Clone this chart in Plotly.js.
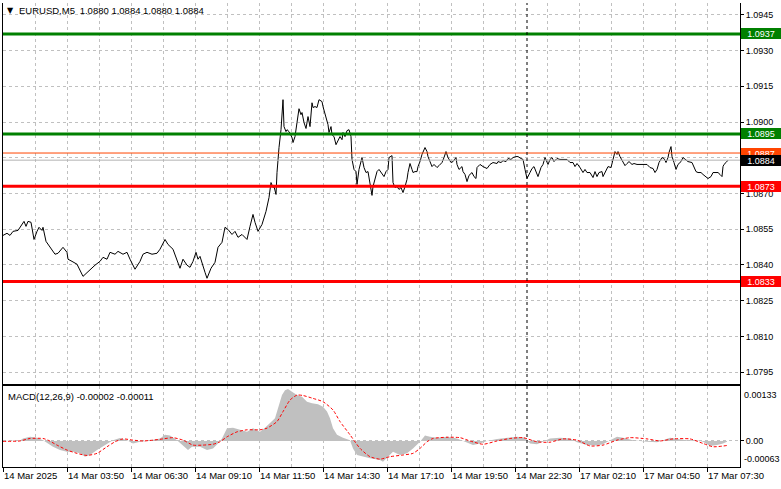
<!DOCTYPE html>
<html>
<head>
<meta charset="utf-8">
<script src="https://cdn.plot.ly/plotly-3.0.1.min.js"></script>
<style>
html,body{margin:0;padding:0;background:#fff;}
#chart{width:781px;height:489px;}
</style>
</head>
<body>
<div id="chart"></div>
<script>
// ---------- DATA ----------
const symbolTitle = "EURUSD,M5";
const ohlc = ["1.0880", "1.0884", "1.0880", "1.0884"];
const macdTitle = "MACD(12,26,9)";
const macdNow = ["-0.00002", "-0.00011"];

// x positions are bar numbers (M5 bars counted from the left edge)
const labelBars = [0, 32, 64, 96, 128, 160, 192, 224, 256, 288, 320, 352];
const labelTexts = ["14 Mar 2025", "14 Mar 03:50", "14 Mar 06:30", "14 Mar 09:10", "14 Mar 11:50",
  "14 Mar 14:30", "14 Mar 17:10", "14 Mar 19:50", "14 Mar 22:30", "17 Mar 02:10", "17 Mar 04:50", "17 Mar 07:30"];
const gridBars = [16, 32, 48, 64, 80, 96, 112, 128, 144, 160, 176, 192, 208, 224, 240, 256, 272, 288, 304, 320, 336, 352, 368];
const daySeparatorBar = 262;

const priceTicks = [1.0795, 1.0810, 1.0825, 1.0840, 1.0855, 1.0870, 1.0885, 1.0900, 1.0915, 1.0930, 1.0945];

// price line, part 1 (Friday morning)
const priceBarsA = [0,2,3.5,5,7.5, 9.5,10.5,11.5,12.5,14, 14.5,15.5,17,18,19.5, 20,21.5,23.5,26,27.5,
  30,32,32.5,34.5,37, 40,42,44.5,46,48.5, 50,52,53.5,56,57.5, 60,62,63.5,66,68.5,
  70,72,74.5,77,78.5, 81,82.5,85,87,88.5, 90,92,93.5,95,96.5, 97.5,98.5,100,101,102,
  104,106,107.5,109.5,111, 112.5,114.5,116,117.5,119.5, 122,123.5,125,126,127.5, 129.5,131.5];
const priceValuesA = [1.08524,1.08533,1.08524,1.08541,1.08545, 1.08570,1.08583,1.08562,1.08583,1.08579,
  1.08558,1.08507,1.08541,1.08558,1.08545, 1.08558,1.08499,1.08474,1.08445,1.08449,
  1.08474,1.08453,1.08424,1.08415,1.08403, 1.08352,1.08369,1.08390,1.08399,1.08415,
  1.08432,1.08424,1.08453,1.08445,1.08457, 1.08445,1.08453,1.08424,1.08382,1.08415,
  1.08445,1.08453,1.08445,1.08449,1.08466, 1.08507,1.08486,1.08466,1.08424,1.08386,
  1.08424,1.08399,1.08390,1.08415,1.08453, 1.08424,1.08436,1.08390,1.08369,1.08344,
  1.08386,1.08411,1.08474,1.08495,1.08558, 1.08549,1.08528,1.08541,1.08516,1.08528,
  1.08507,1.08562,1.08612,1.08579,1.08541, 1.08570,1.08625];

// price line, part 2 (spike and pullback)
const priceBarsB = [133,134,135,135.5,136.5, 137,138,139,140,140.5, 141.5,142,143,144.5,145,
  146,147,148,149,149.5, 150.5,151.5,152.5,153.5,154.5, 155,156,157,158,159.5,
  160,161.5,162.5,163,164, 164.5,165.5,166.5,167.5,168.5, 169.5,170,171,172,173,
  174,174.5,175.5,176.5,177, 178,179.5,180.5,181.5,182.5, 183.5,184.5,185,186,187,
  188,189.5,190.5,191.5,192.5, 193,194.5,195,196,197, 198,199,200,201,202,
  202.5,203.5,204.5,205,206, 207,207.5,208.5,209.5,211, 212,212.5,213.5,214.5,215.5,
  217,218,219.5,220.5,221.5, 222.5,224,225,226.5,227, 228,229.5,230,231,232,
  233,234.5,235.5,236.5,237];
const priceValuesB = [1.08683,1.08746,1.08725,1.08729,1.08696, 1.08788,1.08893,1.08968,1.09094,1.08981,
  1.08960,1.08968,1.08960,1.08935,1.08914, 1.08939,1.08998,1.09056,1.09031,1.09040,
  1.08998,1.08973,1.09023,1.08981,1.09081, 1.09061,1.09065,1.09061,1.09094,1.09086,
  1.09065,1.09023,1.08989,1.08956,1.08981, 1.08947,1.08939,1.08905,1.08926,1.08939,
  1.08926,1.08956,1.08939,1.08964,1.08968, 1.08939,1.08843,1.08801,1.08792,1.08738,
  1.08801,1.08851,1.08809,1.08788,1.08792, 1.08746,1.08692,1.08729,1.08767,1.08792,
  1.08801,1.08780,1.08771,1.08792,1.08801, 1.08851,1.08859,1.08746,1.08725,1.08729,
  1.08717,1.08725,1.08704,1.08729,1.08759, 1.08788,1.08826,1.08801,1.08788,1.08792,
  1.08792,1.08813,1.08834,1.08864,1.08893, 1.08876,1.08855,1.08834,1.08813,1.08822,
  1.08809,1.08817,1.08830,1.08851,1.08876, 1.08851,1.08830,1.08834,1.08851,1.08822,
  1.08801,1.08813,1.08792,1.08780,1.08750, 1.08776,1.08788,1.08771,1.08763,1.08809];

// price line, part 3 (Friday evening and Monday)
const priceBarsC = [238.5,240,242,243.5,245, 247,247.5,249,250,251.5, 252.5,254,255,256.5,257.5,
  259,260,261,262,263.5, 264.5,265.5,266.5,267.5,269, 270,271,272,272.5,273.5,
  274.5,275.5,277,278.5,280, 282,283.5,285,286,287, 288.5,290,291,292,293.5,
  295,296,297,298,299.5, 300,301.5,302.5,304,305, 306,307,307.5,308.5,310,
  311,312,313,314.5,315.5, 317,318.5,320,322,323.5, 325,326,327,328,329.5,
  330.5,331.5,332.5,333,334, 334.5,335.5,336.5,337.5,339, 340,341.5,342.5,344.5,345.5,
  346.5,347.5,349,350,351.5, 352.5,354,355,356.5,357.5, 358.5,359.5,360,360.5,361.5, 362.5];
const priceValuesC = [1.08822,1.08813,1.08805,1.08822,1.08830, 1.08826,1.08834,1.08830,1.08838,1.08834,
  1.08847,1.08843,1.08851,1.08855,1.08855, 1.08847,1.08843,1.08801,1.08763,1.08788,
  1.08805,1.08813,1.08792,1.08771,1.08809, 1.08822,1.08851,1.08834,1.08822,1.08843,
  1.08851,1.08834,1.08847,1.08843,1.08843, 1.08843,1.08830,1.08830,1.08813,1.08826,
  1.08809,1.08788,1.08801,1.08788,1.08788, 1.08767,1.08792,1.08771,1.08788,1.08792,
  1.08771,1.08801,1.08813,1.08809,1.08838, 1.08876,1.08864,1.08876,1.08855,1.08830,
  1.08817,1.08826,1.08834,1.08822,1.08826, 1.08822,1.08822,1.08822,1.08822,1.08809,
  1.08805,1.08788,1.08801,1.08830,1.08851, 1.08847,1.08830,1.08851,1.08872,1.08897,
  1.08855,1.08830,1.08801,1.08822,1.08834, 1.08851,1.08843,1.08834,1.08830,1.08813,
  1.08792,1.08788,1.08788,1.08780,1.08771, 1.08763,1.08771,1.08788,1.08788,1.08788,
  1.08780,1.08771,1.08813,1.08822,1.08830, 1.08840];

// horizontal levels
const levelValues = [1.0937, 1.0895, 1.0873, 1.0833];
const levelKinds  = ["green", "green", "red", "red"];
const highLineValue = 1.0887;
const bidLineValue = 1.0884;

// MACD histogram (main line) and signal
const histBars = [0,8.5,10,13.5,17, 20,22.5,25,28.5,32, 35,38.5,41,43.5,47, 49.5,52,55,58.5,62,
  65,68.5,72,75,78.5, 81,83.5,87,89.5,92.5, 94.5,98.5,102,105,107.5, 109.5,112,115,118.5,122,
  125,128.5,131,133.5,136, 137.5,139.5,141,142.5,144.5, 147,149.5,152,154.5,157.5, 160,162,163.5,165,167,
  170,173.5,175,177,180, 183.5,188.5,190,192.5,195, 198.5,202,205,208.5,211, 213.5,217,222,227,231,
  235,238.5,242,247,252, 257,261,263.5,267,270, 273.5,278.5,283.5,287,292, 297,300,303.5,307,310,
  315,322,327,330,333.5, 337,342,347,350,353.5, 357,360,362];
const histValues = [0,0.00001,0.00006,0.0001,0.00008, 0.00002,-0.00006,-0.00014,-0.00022,-0.00026,
  -0.00026,-0.0003,-0.00038,-0.00034,-0.00022, -0.00014,-0.00006,0.00002,0.00007,0.00002,
  -0.00006,-0.00002,0,0.00002,0.00006, 0.00015,0.00013,0.00002,-0.0001,-0.00022,
  -0.00014,-0.00014,-0.00022,-0.00018,-0.00006, 0.00006,0.00031,0.00032,0.00027,0.00022,
  0.00031,0.00022,0.00032,0.00043,0.00055, 0.00079,0.00111,0.00123,0.00126,0.00119,
  0.00111,0.00107,0.00095,0.00091,0.00089, 0.00083,0.00071,0.00055,0.00031,0.00015,
  0.00008,0.00002,-0.00018,-0.00034,-0.00038, -0.00042,-0.00046,-0.0005,-0.00038,-0.00026,
  -0.00034,-0.0003,-0.00018,-0.00002,0.00013, 0.0001,0.00008,0.0001,0.00006,-0.00003,
  -0.0001,-0.00006,0,0.00005,0.00008, 0.0001,0.00008,-0.00006,-0.00008,-0.00002,
  0.00006,0.00008,0.00006,-0.00003,-0.0001, -0.00011,-0.00008,0.00002,0.0001,0.00008,
  0.00002,-0.00002,-0.00003,0.00002,0.00008, 0.00005,0.00002,0.00002,-0.00002,-0.00012,
  -0.0001,-0.00006,-0.00002];
const signalBars = [0,8.5,13.5,20,22.5, 27,32,37,42,47, 52,56,60,65,70, 75,80,85,90,95,
  100,105,108.5,112,117, 122,128.5,132,137,140, 143.5,147,150,155,160, 165,168.5,173.5,178.5,183.5,
  188.5,193.5,200,205,208.5, 212,215,222,228.5,233.5, 240,247,253.5,260,267, 273.5,280,287,293.5,300,
  307,313.5,322,328.5,335, 343.5,350,355,362];
const signalValues = [-0.00001,0,0.00006,0.00006,0.00002, -0.0001,-0.00022,-0.0003,-0.00035,-0.0003,
  -0.00014,-0.00002,0.00005,0.00002,0, 0.00002,0.00005,0.00008,0.00002,-0.0001,
  -0.0001,-0.00008,-0.00002,0.0001,0.00022, 0.00027,0.00027,0.00031,0.00047,0.00071,
  0.00099,0.00111,0.0011,0.00103,0.00095, 0.00075,0.00047,0.00015,-0.00018,-0.00038,
  -0.00044,-0.00038,-0.00034,-0.0003,-0.00018, -0.00002,0.00006,0.00009,0.00008,0,
  -0.00008,0,0.00006,0.00008,-0.00002, -0.00003,0.00005,0.00002,-0.00012,-0.0001,
  0.00002,0.00008,0.00005,0,0.00005, 0.00005,-0.00006,-0.00014,-0.00011];
const macdScaleMax = 0.00133;
const macdScaleMin = -0.00063;

// ---------- STYLE ----------
const FONT = "'Liberation Sans', Arial, sans-serif";
const FS_NUM = 9;     // right-hand price / MACD scale numbers
const FS_TXT = 9.5;   // time labels
const FS_HEAD = 9.5;  // window headers
const GRID = "#c0c0c0";
const colorOf = {green: "rgb(0,128,0)", red: "rgb(255,0,0)"};

const priceBars = priceBarsA.concat(priceBarsB, priceBarsC);
const priceValues = priceValuesA.concat(priceValuesB, priceValuesC);

const traces = [
  {x: histBars, y: histValues, xaxis: "x2", yaxis: "y2", type: "scatter", mode: "lines",
   fill: "tozeroy", fillcolor: "#c0c0c0", line: {width: 0, color: "#c0c0c0"}, hoverinfo: "skip"},
  {x: signalBars, y: signalValues, xaxis: "x2", yaxis: "y2", type: "scatter", mode: "lines",
   line: {width: 1, color: "#ff0000", dash: "3px,2px", shape: "spline", smoothing: 0.6}, hoverinfo: "skip"},
  {x: priceBars, y: priceValues, xaxis: "x", yaxis: "y", type: "scatter", mode: "lines",
   line: {width: 1, color: "#000000"}, hoverinfo: "skip"}
];

const mainBottom = (467 - 384) / 464;
const subTop = (467 - 386) / 464;

const shapes = [];
shapes.push({type: "line", xref: "x domain", yref: "y", x0: 0, x1: 1, y0: bidLineValue, y1: bidLineValue,
  line: {color: "#b4b4b4", width: 1}});
shapes.push({type: "line", xref: "x domain", yref: "y", x0: 0, x1: 1, y0: highLineValue, y1: highLineValue,
  line: {color: "#ff4500", width: 1}});
levelValues.forEach((v, i) => {
  shapes.push({type: "line", xref: "x domain", yref: "y", x0: 0, x1: 1, y0: v, y1: v,
    line: {color: colorOf[levelKinds[i]], width: 3}});
});
shapes.push({type: "line", xref: "x", yref: "paper", x0: daySeparatorBar, x1: daySeparatorBar, y0: 0, y1: 1,
  line: {color: "#000", width: 1, dash: "3px,3px"}});

const annotations = [];
function box(v, bg) {
  annotations.push({xref: "paper", x: 1, xanchor: "left", xshift: 1, yref: "y", y: v, yanchor: "middle",
    text: v.toFixed(4), showarrow: false, bgcolor: bg, borderwidth: 0, borderpad: 0,
    width: 40, height: 11, align: "center", font: {family: FONT, size: FS_NUM, color: "#ffffff"}});
}
levelValues.forEach((v, i) => box(v, colorOf[levelKinds[i]]));
box(highLineValue, "#ff4500");
box(bidLineValue, "#000000");

annotations.push({xref: "paper", yref: "paper", x: 0, y: 1, xanchor: "left", yanchor: "top", xshift: 2, yshift: -1,
  text: "▼", showarrow: false, font: {family: "DejaVu Sans", size: 8, color: "#000"}});
annotations.push({xref: "paper", yref: "paper", x: 0, y: 1, xanchor: "left", yanchor: "top", xshift: 14, yshift: 0,
  text: symbolTitle + "\u2002" + ohlc.join(" "), showarrow: false, font: {family: FONT, size: FS_HEAD, color: "#000"}});
annotations.push({xref: "paper", yref: "y2 domain", x: 0, y: 1, xanchor: "left", yanchor: "top", xshift: 3, yshift: -3,
  text: macdTitle + " " + macdNow.join(" "), showarrow: false, font: {family: FONT, size: FS_HEAD, color: "#000"}});
annotations.push({xref: "paper", yref: "y2 domain", x: 1, y: 1, xanchor: "left", yanchor: "top", xshift: 2, yshift: -2,
  text: macdScaleMax.toFixed(5), showarrow: false, font: {family: FONT, size: FS_NUM, color: "#000"}});
annotations.push({xref: "paper", yref: "y2 domain", x: 1, y: 0, xanchor: "left", yanchor: "bottom", xshift: 2, yshift: 1,
  text: macdScaleMin.toFixed(5), showarrow: false, font: {family: FONT, size: FS_NUM, color: "#000"}});

const xRange = [0, 368.5];
const layout = {
  width: 781, height: 489,
  margin: {l: 3, r: 41, t: 3, b: 22, pad: 0},
  paper_bgcolor: "#ffffff", plot_bgcolor: "#ffffff",
  showlegend: false,
  font: {family: FONT, size: FS_TXT, color: "#000"},
  xaxis: {domain: [0, 1], anchor: "y", range: xRange, tickmode: "array", tickvals: gridBars,
    showticklabels: false, ticks: "", showgrid: true, gridcolor: GRID, griddash: "3px,3px", gridwidth: 1,
    zeroline: false, showline: true, linecolor: "#000", linewidth: 1},
  yaxis: {domain: [mainBottom, 1], anchor: "x", side: "right", range: [1.0790, 1.0950],
    tickmode: "array", tickvals: priceTicks, ticktext: priceTicks.map(v => v.toFixed(4)),
    ticks: "outside", ticklen: 3, tickcolor: "#000", showgrid: true, gridcolor: GRID, griddash: "3px,3px",
    zeroline: false, showline: true, linecolor: "#000", linewidth: 1, mirror: true,
    tickfont: {family: FONT, size: FS_NUM, color: "#000"}},
  xaxis2: {domain: [0, 1], anchor: "y2", matches: "x", range: xRange, tickmode: "array", tickvals: labelBars,
    ticktext: labelTexts, tickangle: 0, ticks: "outside", ticklen: 4, tickcolor: "#000",
    ticklabelposition: "outside right",
    showgrid: true, gridcolor: GRID, griddash: "3px,3px",
    minor: {tickmode: "array", tickvals: gridBars, showgrid: true, gridcolor: GRID, griddash: "3px,3px", ticks: ""},
    zeroline: false, showline: true, linecolor: "#000", linewidth: 1, mirror: true,
    tickfont: {family: FONT, size: FS_TXT, color: "#000"}},
  yaxis2: {domain: [0, subTop], anchor: "x2", side: "right", range: [macdScaleMin, macdScaleMax],
    tickmode: "array", tickvals: [0], ticktext: ["0.00"], ticks: "outside", ticklen: 3, tickcolor: "#000",
    showgrid: true, gridcolor: GRID, griddash: "3px,3px", zeroline: false,
    showline: true, linecolor: "#000", linewidth: 1, mirror: true,
    tickfont: {family: FONT, size: FS_NUM, color: "#000"}},
  shapes: shapes,
  annotations: annotations
};

Plotly.newPlot("chart", traces, layout, {staticPlot: true, displayModeBar: false});
</script>
</body>
</html>
